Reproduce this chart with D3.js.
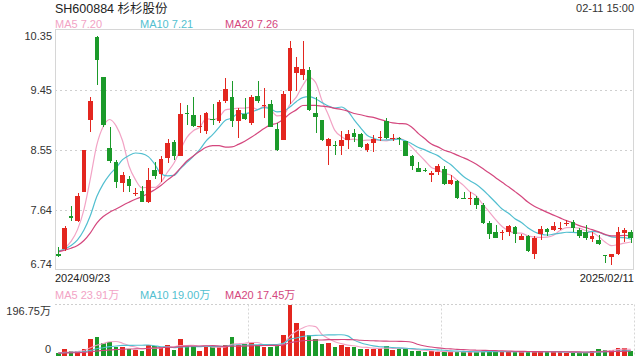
<!DOCTYPE html>
<html><head><meta charset="utf-8">
<script src="https://cdn.jsdelivr.net/npm/d3@7/dist/d3.min.js"></script>
<style>
body{margin:0;background:#fff;}
svg{display:block;font-family:Arial,"Liberation Sans","Noto Sans CJK SC",sans-serif;}
</style>
</head><body>
<svg id="chart" width="640" height="360"></svg>
<script>
// ---------- DATA ----------
const title = "SH600884 杉杉股份";
const timeLabel = "02-11 15:00";
const dates = [
"2024/09/23","2024/09/24","2024/09/25","2024/09/26","2024/09/27","2024/09/30",
"2024/10/08","2024/10/09","2024/10/10","2024/10/11","2024/10/14","2024/10/15","2024/10/16","2024/10/17","2024/10/18",
"2024/10/21","2024/10/22","2024/10/23","2024/10/24","2024/10/25","2024/10/28","2024/10/29","2024/10/30","2024/10/31",
"2024/11/01","2024/11/04","2024/11/05","2024/11/06","2024/11/07","2024/11/08","2024/11/11","2024/11/12","2024/11/13",
"2024/11/14","2024/11/15","2024/11/18","2024/11/19","2024/11/20","2024/11/21","2024/11/22","2024/11/25","2024/11/26",
"2024/11/27","2024/11/28","2024/11/29",
"2024/12/02","2024/12/03","2024/12/04","2024/12/05","2024/12/06","2024/12/09","2024/12/10","2024/12/11","2024/12/12",
"2024/12/13","2024/12/16","2024/12/17","2024/12/18","2024/12/19","2024/12/20","2024/12/23","2024/12/24","2024/12/25",
"2024/12/26","2024/12/27","2024/12/30","2024/12/31",
"2025/01/02","2025/01/03","2025/01/06","2025/01/07","2025/01/08","2025/01/09","2025/01/10","2025/01/13","2025/01/14",
"2025/01/15","2025/01/16","2025/01/17","2025/01/20","2025/01/21","2025/01/22","2025/01/23","2025/01/24","2025/01/27",
"2025/02/05","2025/02/06","2025/02/07","2025/02/10","2025/02/11"];
const open  = [6.98,7.05,7.54,7.47,7.90,8.99,10.23,9.63,8.57,8.35,8.04,8.10,7.88,7.92,7.76,8.24,8.17,8.41,8.66,8.45,
9.09,9.06,8.88,8.83,9.01,8.98,9.28,9.33,8.97,9.08,8.94,9.35,9.20,9.23,8.86,8.69,9.42,9.69,9.67,9.74,
9.09,8.99,8.60,8.61,8.60,8.69,8.80,8.78,8.54,8.65,8.72,8.98,8.71,8.72,8.67,8.44,8.27,8.23,8.16,8.21,
8.25,8.02,8.07,7.82,7.80,7.81,7.71,7.44,7.30,7.29,7.30,7.38,7.19,7.24,6.97,7.27,7.35,7.34,7.36,7.43,
7.46,7.34,7.30,7.20,7.18,6.96,6.93,6.97,7.29,7.30];
const close = [6.95,7.36,7.52,7.85,8.53,9.28,9.89,8.91,8.37,8.05,8.16,7.99,7.89,7.76,8.08,8.15,8.40,8.64,8.44,9.08,
9.08,8.90,8.90,9.09,9.00,9.26,9.46,8.97,9.14,9.01,9.33,9.28,9.22,8.89,8.54,9.38,10.07,9.78,9.76,9.14,
9.03,8.69,8.70,8.60,8.69,8.78,8.74,8.59,8.63,8.71,8.73,8.72,8.72,8.70,8.45,8.30,8.21,8.22,8.19,8.29,
8.02,8.09,7.82,7.81,7.81,7.71,7.44,7.27,7.22,7.30,7.39,7.27,7.25,7.02,7.22,7.35,7.30,7.39,7.37,7.44,
7.36,7.25,7.21,7.24,7.12,6.95,6.97,7.30,7.34,7.21];
const high  = [7.08,7.40,7.69,7.89,8.53,9.34,10.25,9.64,8.88,8.39,8.20,8.14,7.96,7.99,8.26,8.35,8.44,8.70,8.69,9.24,
9.21,9.34,9.06,9.11,9.23,9.29,9.62,9.57,9.17,9.32,9.37,9.58,9.47,9.29,8.94,9.42,10.18,9.93,10.17,9.79,
9.34,8.99,8.72,8.68,8.82,8.84,8.85,8.79,8.64,8.77,8.82,9.02,8.78,8.74,8.68,8.46,8.36,8.26,8.22,8.32,
8.29,8.16,8.09,7.91,7.91,7.84,7.74,7.47,7.41,7.34,7.41,7.40,7.27,7.26,7.25,7.40,7.37,7.46,7.45,7.49,
7.49,7.36,7.41,7.30,7.26,6.96,6.98,7.38,7.37,7.34];
const low   = [6.93,7.02,7.47,7.45,7.90,8.81,9.51,8.89,8.34,7.97,7.91,7.91,7.84,7.75,7.74,8.10,8.06,8.34,8.39,8.44,
8.92,8.89,8.79,8.78,8.92,8.94,9.24,8.89,8.72,8.99,8.92,9.24,9.02,8.88,8.52,8.69,9.23,9.42,9.59,9.12,
8.79,8.67,8.31,8.46,8.46,8.56,8.66,8.57,8.51,8.51,8.67,8.71,8.68,8.62,8.44,8.24,8.20,8.20,8.06,8.16,
8.01,8.01,7.80,7.80,7.71,7.65,7.42,7.20,7.21,7.19,7.25,7.14,7.18,7.01,6.90,7.19,7.25,7.32,7.34,7.39,
7.31,7.22,7.19,7.16,7.11,6.84,6.81,6.96,7.16,7.14];
// volume, in 万 shares
const volume = [9,24,17,18,27,65,71,49,52,34,32,24,22,19,39,36,31,41,23,62,
36,36,19,32,36,36,41,73,41,46,49,41,32,32,36,79,196.75,125,94,78,
63,45,48,32,42,33,33,25,24,27,29,36,22,24,26,19,17,14,16,14,
16,12,15,12,14,15,19,16,14,14,15,15,12,15,16,15,14,13,12,10,
11,10,12,16,26,20,22,30,28,19];
// estimated closes / volumes of the 19 sessions before the first candle (only feed the moving averages)
const priorClose  = [6.90,6.95,7.02,7.05,6.98,6.93,6.97,7.04,7.10,7.08,7.03,6.99,7.01,7.06,7.09,7.04,7.00,6.97,7.02];
const priorVolume = [8,9,7,10,8,9,11,8,7,9,10,8,9,12,8,9,10,11,9];

const yTickLabels = ["10.35","9.45","8.55","7.64","6.74"];
const priceDomain = [6.74, 10.35];
const volTickLabels = ["196.75万","0"];
const volDomain = [0, 196.75];
const maPeriods = [5, 10, 20];
const priceMALegend = ["MA5 7.20","MA10 7.21","MA20 7.26"];
const volMALegend = ["MA5 23.91万","MA10 19.00万","MA20 17.45万"];

// ---------- STYLE ----------
const UP = "#e3261f", DOWN = "#1b9a2a";
const maColors = ["#f2a3c5","#52bfd0","#d4477e"];
const L = 55, R = 634;
const P_TOP = 29.5, P_BOT = 269.5;
const V_TOP = 304.5, V_BOT = 355.5;

const svg = d3.select("#chart");

const x = d3.scaleBand().domain(dates).range([L, R]).paddingInner(0.28).paddingOuter(0.14);
const bw = x.bandwidth();
const cx = d => x(d) + bw / 2;
const y = d3.scaleLinear().domain(priceDomain).range([P_BOT, P_TOP]);
const yv = d3.scaleLinear().domain(volDomain).range([V_BOT, V_TOP]);

function sma(prior, vals, n) {
  const all = prior.concat(vals), off = prior.length;
  return vals.map((_, i) => {
    const j = i + off;
    const s = all.slice(Math.max(0, j - n + 1), j + 1);
    return d3.mean(s);
  });
}

// ---------- header ----------
svg.append("text").attr("x", L).attr("y", 12.5).attr("font-size", 12.5).attr("fill", "#222").text(title);
svg.append("text").attr("x", R).attr("y", 12).attr("font-size", 11).attr("fill", "#333")
  .attr("text-anchor", "end").text(timeLabel);
const legX = [L, 140, 225];
priceMALegend.forEach((t, i) => svg.append("text").attr("x", legX[i]).attr("y", 27.5)
  .attr("font-size", 11).attr("fill", maColors[i]).text(t));

// ---------- price panel ----------
const yTicks = d3.range(5).map(k => priceDomain[1] - k * (priceDomain[1] - priceDomain[0]) / 4);
const gy = svg.append("g").attr("transform", `translate(${L},0)`)
  .call(d3.axisLeft(y).tickValues(yTicks).tickFormat((d, i) => yTickLabels[i]).tickSize(0).tickPadding(3));
gy.select(".domain").remove();
gy.selectAll("text").attr("font-size", 11).attr("fill", "#333").attr("font-family", "Arial, 'Liberation Sans', sans-serif")
  .attr("dy", (d, i) => i === 0 ? "0.95em" : i === 4 ? "-0.2em" : "0.32em");

svg.append("g").selectAll("line").data(yTicks.slice(1, 4)).join("line")
  .attr("x1", L).attr("x2", R).attr("y1", d => Math.round(y(d)) + 0.5).attr("y2", d => Math.round(y(d)) + 0.5)
  .attr("stroke", "#cfcfcf").attr("stroke-dasharray", "2,3");
svg.append("rect").attr("x", L + 0.5).attr("y", P_TOP).attr("width", R - L - 1).attr("height", P_BOT - P_TOP)
  .attr("fill", "none").attr("stroke", "#d6d6d6");

// moving averages of price
const priceMA = maPeriods.map(n => sma(priorClose, close, n));
const line = d3.line().x((d, i) => cx(dates[i])).curve(d3.curveMonotoneX);
priceMA.forEach((arr, k) => svg.append("path").attr("d", line.y(d => y(d))(arr))
  .attr("fill", "none").attr("stroke", maColors[k]).attr("stroke-width", 1.2));

// candles
const cg = svg.append("g").attr("shape-rendering", "crispEdges");
dates.forEach((d, i) => {
  const up = close[i] >= open[i];
  const col = up ? UP : DOWN;
  const xm = Math.round(cx(d)) + 0.5;
  cg.append("line").attr("x1", xm).attr("x2", xm).attr("y1", y(high[i])).attr("y2", y(low[i]))
    .attr("stroke", col).attr("stroke-width", 1);
  const top = y(Math.max(open[i], close[i])), bot = y(Math.min(open[i], close[i]));
  cg.append("rect").attr("x", x(d)).attr("width", bw).attr("y", top).attr("height", Math.max(1, bot - top))
    .attr("fill", col);
});

// date labels
svg.append("text").attr("x", L).attr("y", 282).attr("font-size", 11).attr("fill", "#222").text(dates[0]);
svg.append("text").attr("x", R).attr("y", 282).attr("font-size", 11).attr("fill", "#222")
  .attr("text-anchor", "end").text(dates[dates.length - 1]);

// ---------- volume panel ----------
volMALegend.forEach((t, i) => svg.append("text").attr("x", legX[i]).attr("y", 299)
  .attr("font-size", 11).attr("fill", maColors[i]).text(t));

const gv = svg.append("g").attr("transform", `translate(${L},0)`)
  .call(d3.axisLeft(yv).tickValues([volDomain[1], volDomain[0]]).tickFormat((d, i) => volTickLabels[i]).tickSize(0).tickPadding(4));
gv.select(".domain").remove();
gv.selectAll("text").attr("font-size", 11).attr("fill", "#333").attr("font-family", "Arial, 'Liberation Sans', 'Noto Sans CJK SC', sans-serif")
  .attr("dy", (d, i) => i === 0 ? "0.9em" : "-0.25em");

svg.append("line").attr("x1", L).attr("x2", R).attr("y1", V_TOP).attr("y2", V_TOP)
  .attr("stroke", "#cfcfcf").attr("stroke-dasharray", "2,2");
[L + (R - L) / 3, L + 2 * (R - L) / 3, R - 0.5].forEach(xx =>
  svg.append("line").attr("x1", Math.round(xx) + 0.5).attr("x2", Math.round(xx) + 0.5).attr("y1", V_TOP).attr("y2", V_BOT)
    .attr("stroke", "#d6d6d6").attr("stroke-dasharray", "2,2"));

const vg = svg.append("g").attr("shape-rendering", "crispEdges");
vg.selectAll("rect").data(dates).join("rect")
  .attr("x", d => x(d)).attr("width", bw)
  .attr("y", (d, i) => yv(volume[i])).attr("height", (d, i) => V_BOT - yv(volume[i]))
  .attr("fill", (d, i) => close[i] >= open[i] ? UP : DOWN);

const volMA = maPeriods.map(n => sma(priorVolume, volume, n));
volMA.forEach((arr, k) => svg.append("path").attr("d", line.y(d => yv(d))(arr))
  .attr("fill", "none").attr("stroke", maColors[k]).attr("stroke-width", 1.1));
</script>
</body></html>
